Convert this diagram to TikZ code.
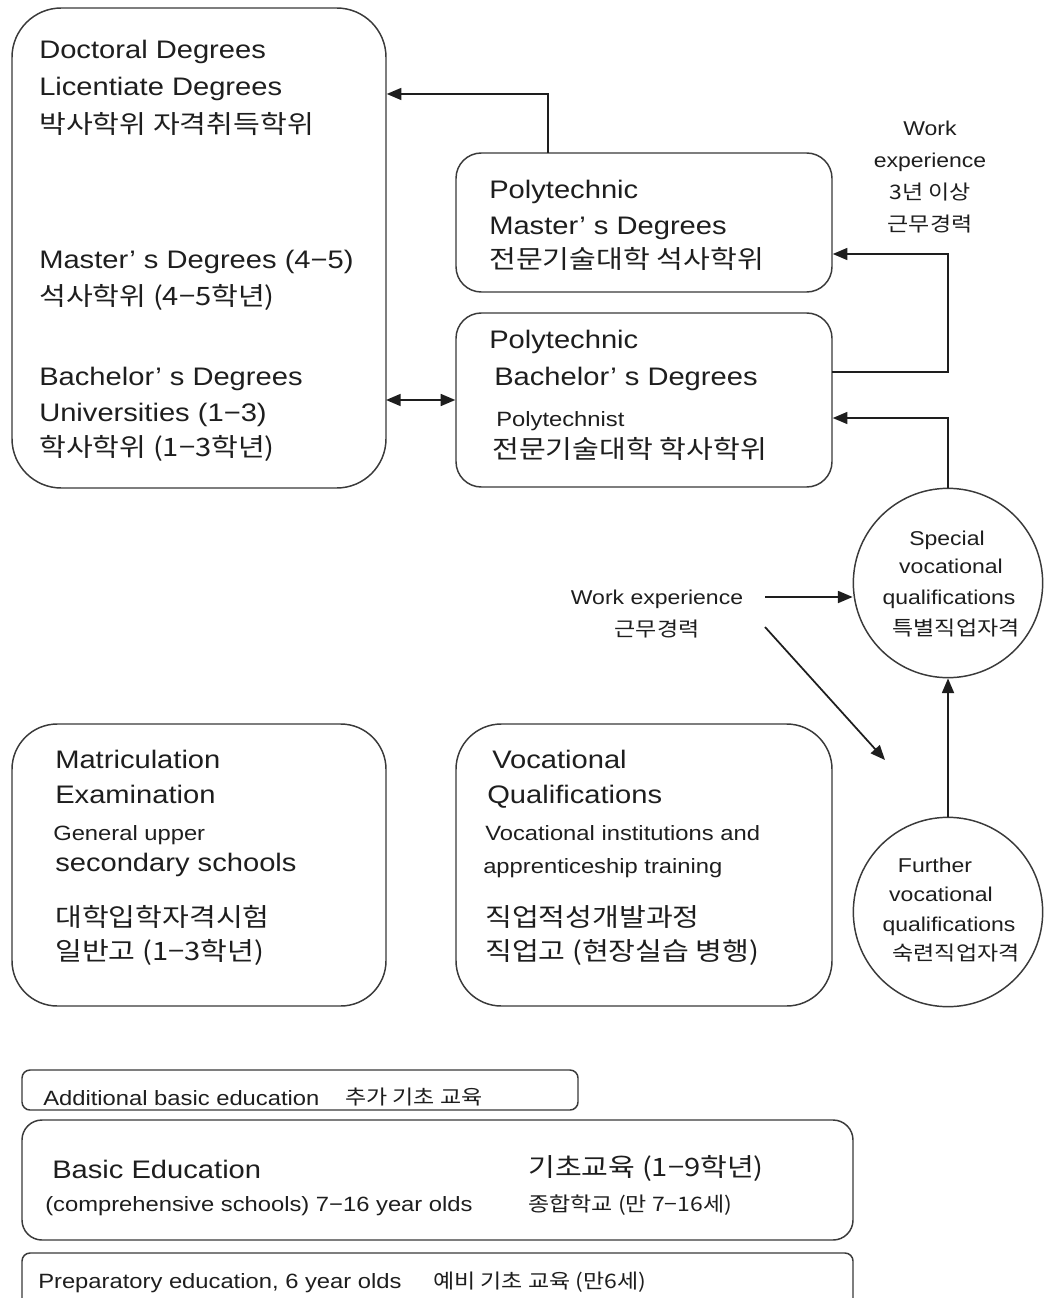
\documentclass[tikz,border=0pt]{standalone}
\usepackage{fontspec}
\setmainfont{Liberation Sans}[FakeStretch=1.15]
\newfontfamily\kr{Noto Sans CJK KR}[FakeStretch=1.15]
\usetikzlibrary{arrows.meta}
\definecolor{ink}{HTML}{1E1E1E}
\definecolor{edge}{HTML}{3A3A3A}
\begin{document}
\begin{tikzpicture}[x=0.75pt,y=-0.75pt,
  box/.style={draw=edge, line width=1.1pt, rounded corners=#1, inner sep=0},
  box/.default=18pt,
  circ/.style={draw=edge, line width=1.1pt, circle, minimum size=142pt, inner sep=0},
  txt/.style={anchor=mid west, inner sep=0, text=ink, yshift=-3.5pt},
  L/.style={txt, font=\fontsize{19}{22}\selectfont},
  K/.style={txt, font=\fontsize{19}{22}\selectfont\kr},
  S/.style={txt, font=\fontsize{15.5}{18}\selectfont},
  KS/.style={txt, font=\fontsize{15}{18}\selectfont\kr},
  C/.style={anchor=mid, inner sep=0, text=ink, yshift=-3pt, font=\fontsize{15}{18}\selectfont},
  CK/.style={anchor=mid, inner sep=0, text=ink, yshift=-3pt, font=\fontsize{15}{18}\selectfont\kr},
  arr/.style={draw=ink, line width=1.3pt, -{Triangle[length=11pt,width=9pt]}},
  darr/.style={draw=ink, line width=1.3pt, {Triangle[length=11pt,width=9pt]}-{Triangle[length=11pt,width=9pt]}}
]
\useasboundingbox[fill=white] (0,0) rectangle (1043,1298);

% ---- boxes
\node[box=37pt, minimum width=280.5pt, minimum height=360pt] (univ) at (199,248) {};
\node[box=19pt, minimum width=282pt, minimum height=104.25pt] (pmast) at (644,222.5) {};
\node[box=19pt, minimum width=282pt, minimum height=130.5pt] (pbach) at (644,400) {};
\node[box=34pt, minimum width=280.5pt, minimum height=211.5pt] (matric) at (199,865) {};
\node[box=34pt, minimum width=282pt, minimum height=211.5pt] (voc) at (644,865) {};
\node[circ] (special) at (948,583) {};
\node[circ] (further) at (948,912) {};
\node[box=6pt, minimum width=417pt, minimum height=30pt] (addb) at (300,1090) {};
\node[box=15pt, minimum width=623.25pt, minimum height=90pt] (basic) at (437.5,1180) {};
\node[box=6pt, minimum width=623.25pt, minimum height=57pt] (prep) at (437.5,1291) {};

% ---- university box text
\node[L] (u1) at (39,50) {Doctoral Degrees};
\node[L] (u2) at (39,87) {Licentiate Degrees};
\node[K] (u3) at (39,125) {박사학위 자격취득학위};
\node[L] (u4) at (39,260) {Master’ s Degrees (4−5)};
\node[K] (u5) at (39,297) {석사학위 (4−5학년)};
\node[L] (u6) at (39,377) {Bachelor’ s Degrees};
\node[L] (u7) at (39,413) {Universities (1−3)};
\node[K] (u8) at (39,448) {학사학위 (1−3학년)};

% ---- polytechnic master
\node[L] (m1) at (489,190) {Polytechnic};
\node[L] (m2) at (489,226) {Master’ s Degrees};
\node[K] (m3) at (489,260) {전문기술대학 석사학위};

% ---- polytechnic bachelor
\node[L] (b1) at (489,340) {Polytechnic};
\node[L] (b2) at (494,377) {Bachelor’ s Degrees};
\node[S] (b3) at (496,418) {Polytechnist};
\node[K] (b4) at (492,450) {전문기술대학 학사학위};

% ---- work experience (top right)
\node[C] (tw1) at (930,128) {Work};
\node[C] (tw2) at (930,160) {experience};
\node[CK] (tw3) at (930,192) {3년 이상};
\node[CK] (tw4) at (930,224) {근무경력};

% ---- work experience (middle)
\node[C] (we1) at (657,597) {Work experience};
\node[CK] (we2) at (657,629) {근무경력};

% ---- circle texts
\node[C] (s1) at (947,538) {Special};
\node[C] (s2) at (951,566) {vocational};
\node[C] (s3) at (949,597) {qualifications};
\node[CK] (s4) at (956,628) {특별직업자격};
\node[C] (f1) at (935,865) {Further};
\node[C] (f2) at (941,894) {vocational};
\node[C] (f3) at (949,924) {qualifications};
\node[CK] (f4) at (956,953) {숙련직업자격};

% ---- matriculation
\node[L] (x1) at (55,760) {Matriculation};
\node[L] (x2) at (55,795) {Examination};
\node[S] (x3) at (53,832) {General upper};
\node[L] (x4) at (55,863) {secondary schools};
\node[K] (x5) at (55,918) {대학입학자격시험};
\node[K] (x6) at (55,952) {일반고 (1−3학년)};

% ---- vocational
\node[L] (v1) at (492,760) {Vocational};
\node[L] (v2) at (487,795) {Qualifications};
\node[S] (v3) at (485,832) {Vocational institutions and};
\node[S] (v4) at (483,865) {apprenticeship training};
\node[K] (v5) at (485,918) {직업적성개발과정};
\node[K] (v6) at (485,952) {직업고 (현장실습 병행)};

% ---- bottom boxes
\node[S] (a1) at (43,1097) {Additional basic education};
\node[KS] (a2) at (345,1096) {추가 기초 교육};
\node[L] (e1) at (52,1170) {Basic Education};
\node[S] (e2) at (45,1203) {(comprehensive schools) 7−16 year olds};
\node[K] (e3) at (528,1168) {기초교육 (1−9학년)};
\node[KS] (e4) at (528,1203) {종합학교 (만 7−16세)};
\node[S] (p1) at (38,1280) {Preparatory education, 6 year olds};
\node[KS] (p2) at (433,1280) {예비 기초 교육 (만6세)};

% ---- connectors
\coordinate (t1) at (548,153);
\coordinate (t2) at (548,94);
\draw[arr] (t1) -- (t2) -- (univ.east |- t2);

\coordinate (r1) at (832,372);
\coordinate (r2) at (948,372);
\coordinate (r3) at (948,254);
\draw[arr] (r1) -- (r2) -- (r3) -- (pmast.east |- r3);

\coordinate (q1) at (948,418);
\draw[arr] (special.north) -- (q1) -- (pbach.east |- q1);

\coordinate (d1) at (386,400);
\draw[darr] (d1) -- (pbach.west |- d1);

\coordinate (w1) at (765,597);
\draw[arr] (w1) -- (special.west |- w1);
\coordinate (w2) at (765,627);
\coordinate (w3) at (885,760);
\draw[arr] (w2) -- (w3);

\draw[arr] (further.north) -- (special.south);
\end{tikzpicture}
\end{document}
